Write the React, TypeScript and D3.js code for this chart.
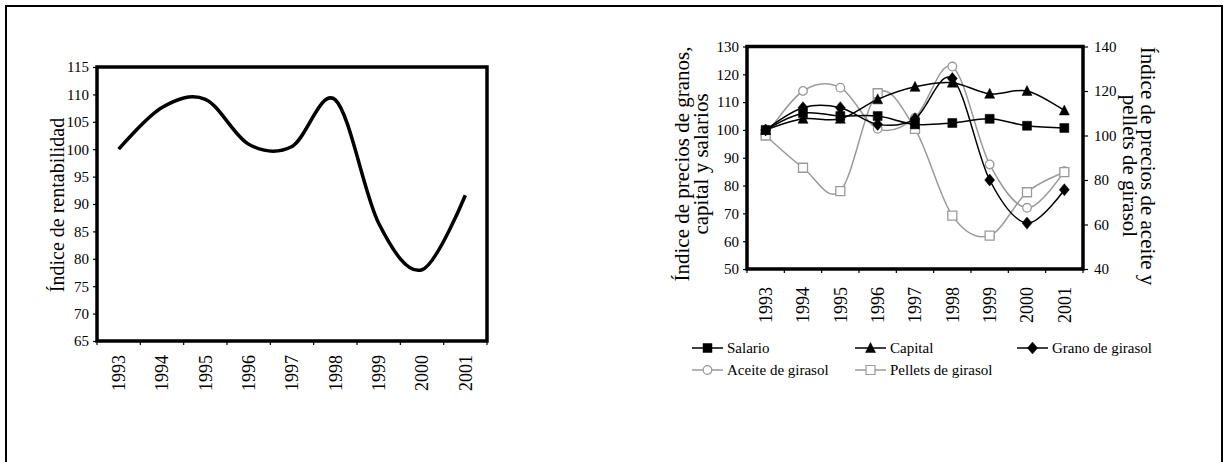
import { useEffect, useRef } from 'react';
import * as d3 from 'd3';

const years = ['1993', '1994', '1995', '1996', '1997', '1998', '1999', '2000', '2001'];

// left chart
const rentabilidad = [100, 107.6, 109.1, 100.9, 100.5, 109, 86.5, 78, 91.6];
const rentTicks = [65, 70, 75, 80, 85, 90, 95, 100, 105, 110, 115];

// right chart, primary axis
const salario = [100, 106, 105, 105, 102, 102.5, 104, 101.5, 100.7];
const capital = [100, 104, 104, 111, 115.5, 117, 113, 114, 107];
const grano = [100, 108, 108, 102, 104, 118.5, 82, 66.5, 78.5];
const granosTicks = [50, 60, 70, 80, 90, 100, 110, 120, 130];

// right chart, secondary axis
const aceite = [100, 120, 121.5, 103, 108, 131, 87, 67.5, 84];
const pellets = [100, 85.5, 75, 119, 103, 64, 55, 74.5, 83.5];
const aceiteTicks = [40, 60, 80, 100, 120, 140];

const FONT = "'Liberation Serif', 'Times New Roman', serif";
const GREY = '#9a9a9a';

type Marker = 'square' | 'triangle' | 'diamond' | 'circle' | 'hsquare';

function markerPath(type: Marker, x: number, y: number): string {
  if (type === 'square' || type === 'hsquare') {
    const h = 4.5;
    return `M${x - h},${y - h}H${x + h}V${y + h}H${x - h}Z`;
  }
  if (type === 'triangle') {
    return `M${x},${y - 5.5}L${x + 5},${y + 4.5}L${x - 5},${y + 4.5}Z`;
  }
  if (type === 'diamond') {
    return `M${x},${y - 6}L${x + 5},${y}L${x},${y + 6}L${x - 5},${y}Z`;
  }
  const r = 4.3;
  return `M${x - r},${y}a${r},${r} 0 1,0 ${2 * r},0a${r},${r} 0 1,0 ${-2 * r},0Z`;
}

export default function App() {
  const svgRef = useRef<SVGSVGElement>(null);

  useEffect(() => {
    if (!svgRef.current) return;
    const svg = d3.select(svgRef.current);
    svg.selectAll('*').remove();

    // outer frame
    svg.append('rect')
      .attr('x', 6).attr('y', 6).attr('width', 1216).attr('height', 500)
      .attr('fill', 'none').attr('stroke', '#000').attr('stroke-width', 2);

    // ---------- left chart ----------
    const x1 = d3.scaleBand<string>().domain(years).range([97, 487]);
    const y1 = d3.scaleLinear().domain([65, 115]).range([341, 67]);
    const bw1 = x1.bandwidth();
    const g1 = svg.append('g');

    const ya1 = g1.append('g')
      .attr('transform', 'translate(97,0)')
      .call(d3.axisLeft(y1).tickValues(rentTicks).tickSize(4).tickPadding(4));
    ya1.select('.domain').remove();
    ya1.selectAll('line').attr('stroke-width', 1.2);
    ya1.selectAll('text').attr('font-family', FONT).attr('font-size', 15).attr('fill', '#000');

    const bounds1 = [...years.map((d) => x1(d) as number), 487];
    g1.selectAll('line.xt').data(bounds1).join('line')
      .attr('x1', (d) => d).attr('x2', (d) => d).attr('y1', 341).attr('y2', 345)
      .attr('stroke', '#000').attr('stroke-width', 1.2);

    g1.selectAll('text.xl').data(years).join('text')
      .attr('transform', (d) => `translate(${(x1(d) as number) + bw1 / 2},355) rotate(-90)`)
      .attr('text-anchor', 'end').attr('dy', '0.35em')
      .attr('font-family', FONT).attr('font-size', 18).text((d) => d);

    g1.append('text')
      .attr('transform', 'translate(57,205) rotate(-90)')
      .attr('text-anchor', 'middle').attr('dy', '0.35em')
      .attr('font-family', FONT).attr('font-size', 20).text('Índice de rentabilidad');

    const line1 = d3.line<number>()
      .x((_, i) => (x1(years[i]) as number) + bw1 / 2)
      .y((d) => y1(d))
      .curve(d3.curveCardinal.tension(0));
    g1.append('path').attr('d', line1(rentabilidad))
      .attr('fill', 'none').attr('stroke', '#000').attr('stroke-width', 3.5)
      .attr('stroke-linejoin', 'round');

    g1.append('rect').attr('x', 97).attr('y', 67).attr('width', 390).attr('height', 274)
      .attr('fill', 'none').attr('stroke', '#000').attr('stroke-width', 3.5);

    // ---------- right chart ----------
    const x2 = d3.scaleBand<string>().domain(years).range([747, 1083]);
    const yL = d3.scaleLinear().domain([50, 130]).range([269, 46.5]);
    const yR = d3.scaleLinear().domain([40, 140]).range([269, 46.5]);
    const bw2 = x2.bandwidth();
    const g2 = svg.append('g');

    const ya2 = g2.append('g')
      .attr('transform', 'translate(747,0)')
      .call(d3.axisLeft(yL).tickValues(granosTicks).tickSize(4).tickPadding(4));
    ya2.select('.domain').remove();
    ya2.selectAll('line').attr('stroke-width', 1.2);
    ya2.selectAll('text').attr('font-family', FONT).attr('font-size', 15).attr('fill', '#000');

    const yb2 = g2.append('g')
      .attr('transform', 'translate(1083,0)')
      .call(d3.axisRight(yR).tickValues(aceiteTicks).tickSize(5).tickPadding(6));
    yb2.select('.domain').remove();
    yb2.selectAll('line').attr('stroke-width', 1.2);
    yb2.selectAll('text').attr('font-family', FONT).attr('font-size', 15).attr('fill', '#000');

    const bounds2 = [...years.map((d) => x2(d) as number), 1083];
    g2.selectAll('line.xt').data(bounds2).join('line')
      .attr('x1', (d) => d).attr('x2', (d) => d).attr('y1', 269).attr('y2', 273)
      .attr('stroke', '#000').attr('stroke-width', 1.2);

    g2.selectAll('text.xl').data(years).join('text')
      .attr('transform', (d) => `translate(${(x2(d) as number) + bw2 / 2},287) rotate(-90)`)
      .attr('text-anchor', 'end').attr('dy', '0.35em')
      .attr('font-family', FONT).attr('font-size', 18).text((d) => d);

    const leftTitle = ['Índice de precios de granos,', 'capital y salarios'];
    leftTitle.forEach((t, i) => {
      g2.append('text')
        .attr('transform', `translate(${682 + i * 18.5},164) rotate(-90)`)
        .attr('text-anchor', 'middle').attr('dy', '0.35em')
        .attr('font-family', FONT).attr('font-size', 21).text(t);
    });
    const rightTitle = ['Índice de precios de aceite y', 'pellets de girasol'];
    rightTitle.forEach((t, i) => {
      g2.append('text')
        .attr('transform', `translate(${1148 - i * 17.5},166) rotate(90)`)
        .attr('text-anchor', 'middle').attr('dy', '0.35em')
        .attr('font-family', FONT).attr('font-size', 21).text(t);
    });

    const cx = (i: number) => (x2(years[i]) as number) + bw2 / 2;
    const series: { name: string; values: number[]; axis: d3.ScaleLinear<number, number>; color: string; marker: Marker }[] = [
      { name: 'Aceite de girasol', values: aceite, axis: yR, color: GREY, marker: 'circle' },
      { name: 'Pellets de girasol', values: pellets, axis: yR, color: GREY, marker: 'hsquare' },
      { name: 'Salario', values: salario, axis: yL, color: '#000', marker: 'square' },
      { name: 'Capital', values: capital, axis: yL, color: '#000', marker: 'triangle' },
      { name: 'Grano de girasol', values: grano, axis: yL, color: '#000', marker: 'diamond' },
    ];

    series.forEach((s) => {
      const ln = d3.line<number>()
        .x((_, i) => cx(i))
        .y((d) => s.axis(d))
        .curve(d3.curveCardinal.tension(0));
      const sg = g2.append('g');
      sg.append('path').attr('d', ln(s.values))
        .attr('fill', 'none').attr('stroke', s.color).attr('stroke-width', 1.5);
      const hollow = s.marker === 'circle' || s.marker === 'hsquare';
      sg.selectAll('path.m').data(s.values).join('path')
        .attr('d', (d, i) => markerPath(s.marker, cx(i), s.axis(d)))
        .attr('fill', hollow ? '#fff' : '#000')
        .attr('stroke', s.color).attr('stroke-width', hollow ? 1.3 : 0.5);
    });

    g2.append('rect').attr('x', 747).attr('y', 46.5).attr('width', 336).attr('height', 222.5)
      .attr('fill', 'none').attr('stroke', '#000').attr('stroke-width', 3.5);

    // legend
    const legendPos: Record<string, [number, number]> = {
      'Salario': [692, 348],
      'Capital': [855, 348],
      'Grano de girasol': [1017, 348],
      'Aceite de girasol': [692, 370],
      'Pellets de girasol': [855, 370],
    };
    const lg = svg.append('g');
    ['Salario', 'Capital', 'Grano de girasol', 'Aceite de girasol', 'Pellets de girasol'].forEach((name) => {
      const s = series.find((d) => d.name === name)!;
      const [lx, ly] = legendPos[name];
      const hollow = s.marker === 'circle' || s.marker === 'hsquare';
      lg.append('line').attr('x1', lx).attr('x2', lx + 31).attr('y1', ly).attr('y2', ly)
        .attr('stroke', s.color).attr('stroke-width', 1.5);
      lg.append('path').attr('d', markerPath(s.marker, lx + 15.5, ly))
        .attr('fill', hollow ? '#fff' : '#000')
        .attr('stroke', s.color).attr('stroke-width', hollow ? 1.2 : 0.5);
      lg.append('text').attr('x', lx + 35).attr('y', ly).attr('dy', '0.35em')
        .attr('font-family', FONT).attr('font-size', 15).text(name);
    });
  }, []);

  return (
    <svg
      ref={svgRef}
      width={1228}
      height={462}
      style={{ position: 'absolute', left: 0, top: 0, background: '#fff' }}
    />
  );
}
